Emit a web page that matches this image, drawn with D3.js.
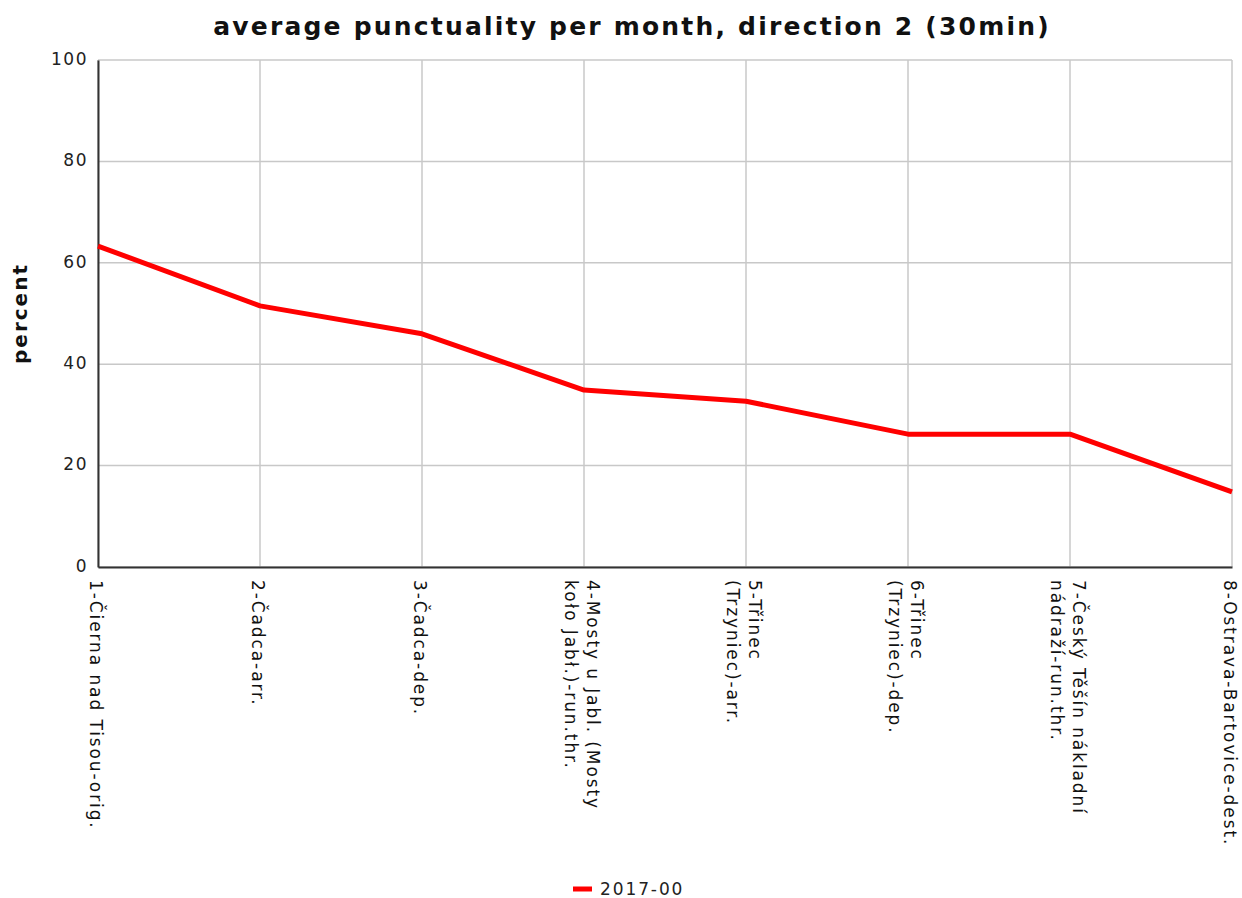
<!DOCTYPE html>
<html>
<head>
<meta charset="utf-8">
<script src="https://cdn.jsdelivr.net/npm/d3@7"></script>
<style>
body { margin: 0; background: #fff; }
text { font-family: "DejaVu Sans", sans-serif; }
</style>
</head>
<body>
<div id="chart"></div>
<script>
// stations along the route (label lines)
var stations = [
    ["1-Čierna nad Tisou-orig."],
    ["2-Čadca-arr."],
    ["3-Čadca-dep."],
    ["4-Mosty u Jabl. (Mosty", "koło Jabł.)-run.thr."],
    ["5-Třinec", "(Trzyniec)-arr."],
    ["6-Třinec", "(Trzyniec)-dep."],
    ["7-Český Těšín nákladní", "nádraží-run.thr."],
    ["8-Ostrava-Bartovice-dest."]
];
var punctuality = [63.3, 51.5, 46.0, 34.9, 32.7, 26.2, 26.2, 14.8];
var yTicks = [0, 20, 40, 60, 80, 100];
var seriesName = "2017-00";

var width = 1242, height = 898;
var margin = {top: 60, right: 10, bottom: 331, left: 98};

var svg = d3.select("#chart").append("svg")
    .attr("width", width)
    .attr("height", height);

var x = d3.scalePoint()
    .domain(d3.range(stations.length))
    .range([margin.left, width - margin.right]);

var y = d3.scaleLinear()
    .domain([0, 100])
    .range([height - margin.bottom, margin.top]);

// grid
svg.append("g")
    .selectAll("line.h")
    .data(yTicks)
    .enter().append("line")
    .attr("x1", margin.left).attr("x2", width - margin.right)
    .attr("y1", function(d){ return y(d); }).attr("y2", function(d){ return y(d); })
    .attr("stroke", "#c8c8c8").attr("stroke-width", 1.5);

svg.append("g")
    .selectAll("line.v")
    .data(d3.range(stations.length))
    .enter().append("line")
    .attr("x1", function(d){ return x(d); }).attr("x2", function(d){ return x(d); })
    .attr("y1", y(0)).attr("y2", y(100))
    .attr("stroke", "#c8c8c8").attr("stroke-width", 1.5);

// y axis
var yAxis = svg.append("g")
    .attr("transform", "translate(" + margin.left + ",0)")
    .call(d3.axisLeft(y).tickValues(yTicks).tickSize(0).tickPadding(10));
yAxis.select(".domain").attr("stroke", "#333").attr("stroke-width", 2);
yAxis.selectAll("text")
    .style("font-size", "17px")
    .style("letter-spacing", "1.5px")
    .attr("dy", "0.25em")
    .attr("fill", "#222");

// x axis
var xAxis = svg.append("g")
    .attr("transform", "translate(0," + y(0) + ")")
    .call(d3.axisBottom(x).tickSize(0).tickFormat(""));
xAxis.select(".domain").attr("stroke", "#333").attr("stroke-width", 2);

var lineH = 22;
var labels = svg.append("g")
    .selectAll("text.xl")
    .data(stations)
    .enter().append("text")
    .attr("transform", function(d, i){
        var off = (d.length - 1) * lineH / 2;
        return "translate(" + (x(i) + off - 2) + "," + (y(0) + 13) + ") rotate(90)";
    })
    .style("font-size", "17px")
    .style("letter-spacing", "1.9px")
    .attr("fill", "#111");
labels.each(function(d){
    var t = d3.select(this);
    d.forEach(function(s, j){
        t.append("tspan")
            .attr("x", 0)
            .attr("y", j * lineH)
            .attr("dy", "0.35em")
            .text(s);
    });
});

// series
var line = d3.line()
    .x(function(d, i){ return x(i); })
    .y(function(d){ return y(d); });

svg.append("path")
    .datum(punctuality)
    .attr("d", line)
    .attr("fill", "none")
    .attr("stroke", "#ff0000")
    .attr("stroke-width", 5)
    .attr("stroke-linejoin", "round");

// title
svg.append("text")
    .attr("x", 632)
    .attr("y", 35)
    .attr("text-anchor", "middle")
    .style("font-size", "25px")
    .style("font-weight", "bold")
    .style("letter-spacing", "2.2px")
    .attr("fill", "#111")
    .text("average punctuality per month, direction 2 (30min)");

// y label
svg.append("text")
    .attr("transform", "translate(27," + ((margin.top + height - margin.bottom) / 2) + ") rotate(-90)")
    .attr("text-anchor", "middle")
    .style("font-size", "20px")
    .style("font-weight", "bold")
    .style("letter-spacing", "2px")
    .attr("fill", "#111")
    .text("percent");

// legend
var leg = svg.append("g").attr("transform", "translate(573,889)");
leg.append("line")
    .attr("x1", 0).attr("x2", 19)
    .attr("stroke", "#ff0000").attr("stroke-width", 5);
leg.append("text")
    .attr("x", 27).attr("dy", "0.35em")
    .style("font-size", "17px")
    .style("letter-spacing", "1.9px")
    .attr("fill", "#222")
    .text(seriesName);
</script>
</body>
</html>
